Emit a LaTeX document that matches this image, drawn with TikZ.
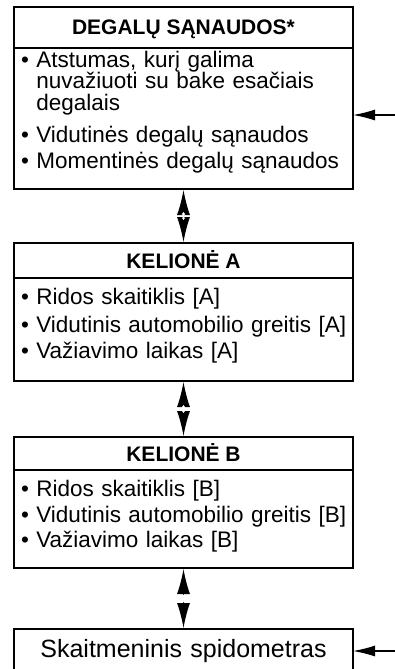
\documentclass[tikz,border=0pt]{standalone}
\usepackage{fontspec}
\setmainfont{Liberation Sans}
\usetikzlibrary{arrows.meta,calc}

\begin{document}
\begin{tikzpicture}[
        x=1pt, y=-1pt,
        every node/.style={
            inner sep=0pt,
            outer sep=0pt
        },
        frame/.style={draw, line width=1.2pt, minimum width=339pt},
        titlebox/.style={frame, text height=15pt, text depth=0pt,
            font=\fontsize{21}{21}\selectfont\bfseries},
        bodybox/.style={frame, anchor=north, text width=337pt, align=left,
            inner xsep=1pt, inner ysep=3pt,
            font=\fontsize{22.5}{21.5}\selectfont,
            execute at begin node={\leftskip=6pt\relax}},
        linkarrow/.style={line width=1pt,
            {Latex[length=25pt,width=13pt]}-{Latex[length=25pt,width=13pt]},
            shorten <=1pt, shorten >=1pt},
        gapmark/.style={white, line width=0.8pt,
            {Latex[length=2.5pt,width=4pt]}-{Latex[length=2.5pt,width=4pt]}},
        inarrow/.style={line width=1.1pt, -{Latex[length=22pt,width=11pt]}}
    ]

    \useasboundingbox (0,0) rectangle (395,669);
    \clip (0,0) rectangle (395,669);

    % Degalu sanaudos
    \node[titlebox, minimum height=41pt] (t1) at (183.5,27.5) {DEGALŲ SĄNAUDOS*};
    \node[bodybox, text height=16pt, text depth=119pt] (b1) at (183.5,48) {%
        \textbullet\ Atstumas, kurį galima\\
        \hphantom{\textbullet\ }nuvažiuoti su bake esačiais\\
        \hphantom{\textbullet\ }degalais\\[10.5pt]
        \textbullet\ Vidutinės degalų sąnaudos\\[4.5pt]
        \textbullet\ Momentinės degalų sąnaudos};

    % Kelione A
    \node[titlebox, minimum height=35pt] (t2) at (183.5,260.5) {KELIONĖ A};
    \node[bodybox, text height=23pt, text depth=74pt] (b2) at (183.5,278) {%
        \textbullet\ Ridos skaitiklis [A]\\[6.5pt]
        \textbullet\ Vidutinis automobilio greitis [A]\\[5pt]
        \textbullet\ Važiavimo laikas [A]};

    % Kelione B
    \node[titlebox, minimum height=33pt] (t3) at (183.5,453.5) {KELIONĖ B};
    \node[bodybox, text height=23pt, text depth=69pt] (b3) at (183.5,470) {%
        \textbullet\ Ridos skaitiklis [B]\\[4.5pt]
        \textbullet\ Vidutinis automobilio greitis [B]\\[4pt]
        \textbullet\ Važiavimo laikas [B]};

    % Spidometras
    \node[frame, anchor=north, text width=325pt, align=center,
          inner xsep=7pt, inner ysep=10pt, text height=18pt, text depth=35pt,
          font=\fontsize{25}{25}\selectfont] (b4) at (183.5,629)
          {Skaitmeninis spidometras};

    % Rodykles tarp langu
    \draw[linkarrow] (b1.south) -- (t2.north);
    \draw[linkarrow] (b2.south) -- (t3.north);
    \draw[linkarrow] (b3.south) -- (b4.north);

    \draw[gapmark] ($(b1.south)!0.5!(t2.north)+(0,-4)$) -- ++(0,8);
    \draw[gapmark] ($(b2.south)!0.5!(t3.north)+(0,-4)$) -- ++(0,8);
    \draw[gapmark] ($(b3.south)!0.5!(b4.north)+(0,-4)$) -- ++(0,8);

    % Rodykles is desines
    \coordinate (in1) at (395,115);
    \coordinate (in4) at (395,651);
    \draw[inarrow] (in1) -- (in1 -| b1.east);
    \draw[inarrow] (in4) -- (in4 -| b4.east);

\end{tikzpicture}
\end{document}
